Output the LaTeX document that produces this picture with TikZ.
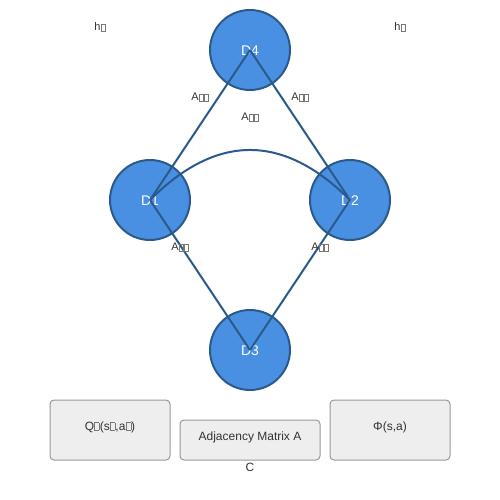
\documentclass[tikz,border=0pt]{standalone}
\usepackage{fontspec}
\setmainfont{Liberation Sans}
\definecolor{nodefill}{HTML}{4A90E2}
\definecolor{nodeline}{HTML}{2B5A8A}
\definecolor{boxfill}{HTML}{EEEEEE}
\definecolor{boxline}{HTML}{999999}
\definecolor{txt}{HTML}{333333}
\definecolor{tofucol}{HTML}{777777}
\newcommand\tofu{{\setlength\fboxsep{0pt}\setlength\fboxrule{0.25pt}\raisebox{0.02em}{\color{tofucol}\fbox{\rule{0pt}{0.6em}\hspace{0.4em}}}\hspace{0.03em}}}
\begin{document}
\begin{tikzpicture}[x=1pt,y=-1pt,
  gnode/.style={circle,minimum size=80pt,inner sep=0pt,draw=nodeline,fill=nodefill,line width=2pt,text=white,font=\fontsize{14}{16}\selectfont},
  glabel/.style={text=white,font=\fontsize{14}{16}\selectfont,inner sep=0pt},
  edge/.style={draw=nodeline,line width=2pt},
  lbl/.style={text=txt,font=\fontsize{11}{13}\selectfont,inner sep=0pt},
  infobox/.style={draw=boxline,fill=boxfill,rounded corners=4pt,line width=1pt,inner sep=0pt},
  btxt/.style={text=txt,font=\fontsize{12}{14}\selectfont,inner sep=0pt}]
\useasboundingbox (0,0) rectangle (500,500);
\node[gnode] (d4) at (250,50) {};
\node[gnode] (d1) at (150,200) {};
\node[gnode] (d2) at (350,200) {};
\node[gnode] (d3) at (250,350) {};
\node[glabel] (t4) at (250,51) {D4};
\node[glabel] (t1) at (150,201) {D1};
\node[glabel] (t2) at (350,201) {D2};
\node[glabel] (t3) at (250,351) {D3};
\draw[edge] (d4.center) -- (d1.center);
\draw[edge] (d4.center) -- (d2.center);
\draw[edge] (d1.center) -- (d3.center);
\draw[edge] (d2.center) -- (d3.center);
\draw[edge] (d1.center) .. controls (216.7,133.3) and (283.3,133.3) .. (d2.center);
\node[lbl] (l14) at (200,97) {A\tofu\tofu};
\node[lbl] (l24) at (300,97) {A\tofu\tofu};
\node[lbl] (l12) at (250,117) {A\tofu\tofu};
\node[lbl] (l13) at (180,247) {A\tofu\tofu};
\node[lbl] (l23) at (320,247) {A\tofu\tofu};
\node[lbl] (h1) at (100,27) {h\tofu};
\node[lbl] (h2) at (400,27) {h\tofu};
\node[infobox,minimum width=120pt,minimum height=60pt] (bq) at (110,430) {};
\node[btxt] (tq) at (110,427) {Q\tofu(s\tofu,a\tofu)};
\node[infobox,minimum width=140pt,minimum height=40pt] (ba) at (250,440) {};
\node[btxt] (ta) at (250,437) {Adjacency Matrix A};
\node[infobox,minimum width=120pt,minimum height=60pt] (bp) at (390,430) {};
\node[btxt] (tp) at (390,427) {Φ(s,a)};
\node[btxt] (c) at (250,467) {C};
\end{tikzpicture}
\end{document}
